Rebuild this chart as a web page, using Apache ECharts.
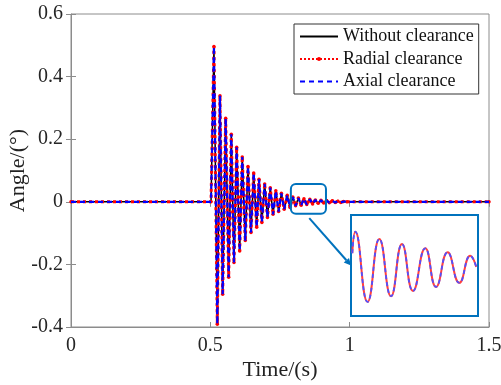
<!DOCTYPE html>
<html>
<head>
<meta charset="utf-8">
<script src="https://cdn.jsdelivr.net/npm/echarts@6/dist/echarts.min.js"></script>
<style>html,body{margin:0;padding:0;background:#fff}#c{width:501px;height:385px}</style>
</head>
<body>
<div id="c"></div>
<script>
// ---- data ----
const seriesNames = ['Without clearance', 'Radial clearance', 'Axial clearance'];
const xTicks = [0, 0.5, 1, 1.5];
const yTicks = [-0.4, -0.2, 0, 0.2, 0.4, 0.6];
// main response (extrema of the oscillation), time in s
const mainTime = [0, 0.5025, 0.513, 0.525, 0.5346, 0.5443, 0.555, 0.5658, 0.5752, 0.5849,
  0.5945, 0.6053, 0.6146, 0.6254, 0.6351, 0.6459, 0.6555, 0.6663, 0.6746, 0.685,
  0.695, 0.705, 0.715, 0.725, 0.735, 0.745, 0.755, 0.765, 0.776, 0.786,
  0.796, 0.806, 0.816, 0.826, 0.836, 0.846, 0.857, 0.867, 0.877, 0.887,
  0.897, 0.907, 0.917, 0.927, 0.938, 0.948, 0.958, 0.968, 0.978, 0.99, 1.5];
const angleWithout = [0, 0, 0.496, -0.391, 0.339, -0.295, 0.267, -0.241, 0.216, -0.194,
  0.174, -0.157, 0.143, -0.124, 0.113, -0.098, 0.092, -0.081, 0.072, -0.066,
  0.057, -0.050, 0.045, -0.040, 0.035, -0.031, 0.027, -0.024, 0.021, -0.018,
  0.015, -0.013, 0.012, -0.011, 0.010, -0.009, 0.008, -0.007, 0.006, -0.005,
  0.005, -0.004, 0.004, -0.003, 0.003, -0.002, 0.002, -0.002, 0.001, 0, 0];
const angleRadial = angleWithout.slice();
const angleAxial = angleWithout.slice();
// zoomed inset (t = 0.79 ... 0.915 s)
const insetTime = [0.7913, 0.7942, 0.8063, 0.8179, 0.8294, 0.8402, 0.8510, 0.8631, 0.8737, 0.8851, 0.8966, 0.9074, 0.9133];
const insetAngle = [0.0061, 0.0167, -0.0180, 0.0131, -0.0152, 0.0106, -0.0126, 0.0085, -0.0106, 0.0065, -0.0086, 0.0048, -0.0007];
const zoomBox = {t0: 0.789, t1: 0.915, v0: -0.038, v1: 0.0565};

const pair = (xs, ys) => xs.map((x, i) => [x, ys[i]]);
const FONT = '"Liberation Serif","Times New Roman",serif';
const AX = '#8c8c8c';
const fmt = v => (Math.abs(v) < 1e-9 ? '0' : String(+v.toFixed(1)));
const hidden = {color: 'rgba(0,0,0,0)', borderWidth: 0};

const chart = echarts.init(document.getElementById('c'), null, {renderer: 'canvas'});
const option = {
  animation: false,
  backgroundColor: '#fff',
  grid: [
    {left: 71, top: 14, right: 12, bottom: 58, show: true, borderColor: AX, borderWidth: 1,
     containLabel: false, outerBoundsMode: 'none'},
    {left: 351, top: 215, width: 127, height: 101, show: true, borderColor: '#0072BD', borderWidth: 2,
     backgroundColor: '#fff', z: 5, containLabel: false, outerBoundsMode: 'none'}
  ],
  legend: {
    orient: 'vertical', left: 294, top: 24,
    data: [
      {name: seriesNames[0], itemStyle: hidden},
      {name: seriesNames[1]},
      {name: seriesNames[2], itemStyle: hidden}
    ],
    backgroundColor: '#fff', borderColor: '#333', borderWidth: 1,
    padding: [3, 5, 3, 5], itemWidth: 38, itemHeight: 5, itemGap: 3.5,
    textStyle: {fontFamily: FONT, fontSize: 18, color: '#111', lineHeight: 19}
  },
  xAxis: [
    {type: 'value', gridIndex: 0, min: 0, max: 1.5, interval: 0.5,
     name: 'Time/(s)', nameLocation: 'middle', nameGap: 32, nameMoveOverlap: false,
     nameTextStyle: {fontFamily: FONT, fontSize: 22, color: '#222'},
     axisLine: {show: true, onZero: false, lineStyle: {color: AX}},
     axisTick: {show: true, inside: true, length: 5, lineStyle: {color: AX}},
     axisLabel: {fontFamily: FONT, fontSize: 20, color: '#262626', margin: 9, formatter: fmt},
     splitLine: {show: false}},
    {type: 'value', gridIndex: 0, position: 'top', min: 0, max: 1.5, interval: 0.5,
     axisLine: {show: false}, axisTick: {show: true, inside: true, length: 5, lineStyle: {color: AX}},
     axisLabel: {show: false}, splitLine: {show: false}},
    {type: 'value', gridIndex: 1, min: 0.79, max: 0.915, show: false}
  ],
  yAxis: [
    {type: 'value', gridIndex: 0, min: -0.4, max: 0.6, interval: 0.2,
     name: 'Angle/(°)', nameLocation: 'middle', nameGap: 42, nameMoveOverlap: false,
     nameTextStyle: {fontFamily: FONT, fontSize: 22, color: '#222'},
     axisLine: {show: true, onZero: false, lineStyle: {color: AX}},
     axisTick: {show: true, inside: true, length: 5, lineStyle: {color: AX}},
     axisLabel: {fontFamily: FONT, fontSize: 20, color: '#262626', margin: 8, formatter: fmt},
     splitLine: {show: false}},
    {type: 'value', gridIndex: 0, position: 'right', min: -0.4, max: 0.6, interval: 0.2,
     axisLine: {show: false}, axisTick: {show: true, inside: true, length: 5, lineStyle: {color: AX}},
     axisLabel: {show: false}, splitLine: {show: false}},
    {type: 'value', gridIndex: 1, min: -0.025, max: 0.025, show: false}
  ],
  series: [
    {name: seriesNames[0], type: 'line', xAxisIndex: 0, yAxisIndex: 0, data: pair(mainTime, angleWithout),
     showSymbol: false, symbol: 'none', lineStyle: {color: '#000', width: 1.5}, itemStyle: {color: '#000'}, z: 2},
    {name: seriesNames[1], type: 'line', xAxisIndex: 0, yAxisIndex: 0, data: pair(mainTime, angleRadial),
     symbol: 'circle', symbolSize: 3.5, showSymbol: true, showAllSymbol: true,
     lineStyle: {color: '#ff0000', width: 3, type: 'dotted'}, itemStyle: {color: '#ff0000'}, z: 3},
    {name: seriesNames[2], type: 'line', xAxisIndex: 0, yAxisIndex: 0, data: pair(mainTime, angleAxial),
     symbol: 'none', lineStyle: {color: '#0000ff', width: 2.2, type: [5, 4]}, itemStyle: {color: '#0000ff'}, z: 4},
    {type: 'line', xAxisIndex: 2, yAxisIndex: 2, data: pair(insetTime, insetAngle), smooth: 0.5,
     symbol: 'none', lineStyle: {color: '#ff4040', width: 2}, z: 6, silent: true},
    {type: 'line', xAxisIndex: 2, yAxisIndex: 2, data: pair(insetTime, insetAngle), smooth: 0.5,
     symbol: 'none', lineStyle: {color: '#5050ff', width: 1.8, type: [4, 3]}, z: 7, silent: true}
  ]
};
chart.setOption(option);

// zoom box and arrow, placed through the chart's own coordinate system
const pA = chart.convertToPixel({gridIndex: 0}, [zoomBox.t0, zoomBox.v1]);
const pB = chart.convertToPixel({gridIndex: 0}, [zoomBox.t1, zoomBox.v0]);
const aStart = chart.convertToPixel({gridIndex: 0}, [0.855, -0.052]);
const aEnd = chart.convertToPixel({xAxisIndex: 2, yAxisIndex: 2}, [0.79, 0.0]);
const dx = aEnd[0] - aStart[0], dy = aEnd[1] - aStart[1];
const L = Math.hypot(dx, dy), ux = dx / L, uy = dy / L;
const hl = 7, hw = 3.5;
const base = [aEnd[0] - ux * hl, aEnd[1] - uy * hl];
chart.setOption({
  graphic: [
    {type: 'rect', shape: {x: pA[0], y: pA[1], width: pB[0] - pA[0], height: pB[1] - pA[1], r: 5},
     style: {fill: 'none', stroke: '#0072BD', lineWidth: 2}, z: 10},
    {type: 'line', shape: {x1: aStart[0], y1: aStart[1], x2: base[0], y2: base[1]},
     style: {stroke: '#0072BD', lineWidth: 2}, z: 10},
    {type: 'polygon', shape: {points: [aEnd, [base[0] - uy * hw, base[1] + ux * hw], [base[0] + uy * hw, base[1] - ux * hw]]},
     style: {fill: '#0072BD'}, z: 10}
  ]
});
</script>
</body>
</html>
